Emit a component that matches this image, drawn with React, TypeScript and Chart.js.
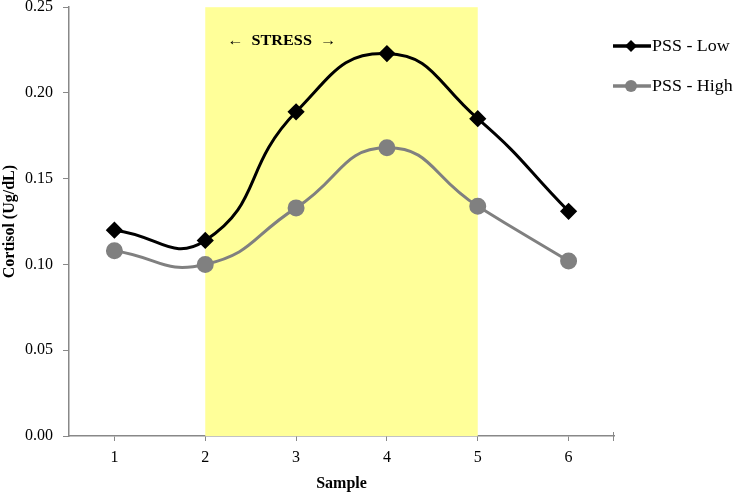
import React, { useEffect, useRef } from "react";
import { Chart, registerables } from "chart.js";

Chart.register(...registerables);

const categories = ["1", "2", "3", "4", "5", "6"];
const pssLow = [0.12, 0.114, 0.189, 0.223, 0.185, 0.131];
const pssHigh = [0.108, 0.1, 0.133, 0.168, 0.134, 0.102];
const seriesNames = ["PSS - Low", "PSS - High"];
const stressStart = "2";
const stressEnd = "5";
const stressLabel = "\u2190  STRESS  \u2192";

const FONT = "'Liberation Serif', 'Times New Roman', serif";
const SHIFT = 6;

const bandPlugin = {
  id: "band",
  beforeDatasetsDraw(chart: any) {
    const { ctx, chartArea, scales } = chart;
    const x0 = scales.x.getPixelForValue(categories.indexOf(stressStart));
    const x1 = scales.x.getPixelForValue(categories.indexOf(stressEnd));
    ctx.save();
    ctx.fillStyle = "#ffff99";
    ctx.fillRect(x0, chartArea.top, x1 - x0, chartArea.bottom - chartArea.top);
    ctx.fillStyle = "#000";
    ctx.font = `bold 15px ${FONT}`;
    ctx.textBaseline = "middle";
    ctx.textAlign = "left";
    ctx.translate(x0 + 22, chartArea.top + 34);
    ctx.scale(1.08, 1);
    ctx.fillText(stressLabel, 0, 0);
    ctx.restore();
  },
};

const legendPlugin = {
  id: "customLegend",
  afterDraw(chart: any) {
    const { ctx } = chart;
    const items = [
      { color: "#000000", style: "diamond", y: 46 + SHIFT },
      { color: "#808080", style: "circle", y: 86 + SHIFT },
    ];
    ctx.save();
    items.forEach((it, i) => {
      ctx.strokeStyle = it.color;
      ctx.lineWidth = 3.5;
      ctx.beginPath();
      ctx.moveTo(613, it.y);
      ctx.lineTo(651, it.y);
      ctx.stroke();
      ctx.fillStyle = it.color;
      ctx.beginPath();
      if (it.style === "diamond") {
        ctx.moveTo(631, it.y - 6);
        ctx.lineTo(637, it.y);
        ctx.lineTo(631, it.y + 6);
        ctx.lineTo(625, it.y);
        ctx.closePath();
      } else {
        ctx.arc(631, it.y, 6, 0, Math.PI * 2);
      }
      ctx.fill();
      ctx.save();
      ctx.fillStyle = "#000";
      ctx.font = `16px ${FONT}`;
      ctx.textBaseline = "middle";
      ctx.textAlign = "left";
      ctx.translate(652, it.y + 1);
      ctx.scale(1.12, 1);
      ctx.fillText(seriesNames[i], 0, 0);
      ctx.restore();
    });
    const { chartArea } = chart;
    ctx.strokeStyle = "#888";
    ctx.lineWidth = 1;
    ctx.beginPath();
    ctx.moveTo(chartArea.right - 0.5, chartArea.bottom - 4);
    ctx.lineTo(chartArea.right - 0.5, chartArea.bottom + 5);
    ctx.stroke();
    ctx.restore();
  },
};

export default function App() {
  const ref = useRef<HTMLCanvasElement>(null);
  useEffect(() => {
    const chart = new Chart(ref.current!, {
      type: "line",
      data: {
        labels: categories,
        datasets: [
          {
            label: seriesNames[0],
            data: pssLow,
            borderColor: "#000000",
            backgroundColor: "#000000",
            borderWidth: 3,
            pointStyle: "rectRot",
            pointRadius: 6.5,
            pointHoverRadius: 6.5,
            tension: 0.5,
          },
          {
            label: seriesNames[1],
            data: pssHigh,
            borderColor: "#808080",
            backgroundColor: "#808080",
            borderWidth: 3,
            pointStyle: "circle",
            pointRadius: 7,
            pointHoverRadius: 7,
            tension: 0.5,
          },
        ],
      },
      options: {
        animation: false,
        responsive: false,
        layout: { padding: { left: 0, right: 121, top: 1, bottom: 0 } },
        plugins: {
          legend: { display: false },
          tooltip: { enabled: false },
        },
        scales: {
          x: {
            offset: true,
            grid: {
              offset: false,
              drawOnChartArea: false,
              drawTicks: true,
              tickLength: 5,
              color: "#888",
            },
            border: { display: true, color: "#888", width: 1.5 },
            ticks: { color: "#000", font: { family: FONT, size: 16 }, padding: 7 },
            title: {
              display: true,
              text: "Sample",
              color: "#000",
              font: { family: FONT, size: 16, weight: "bold" },
              padding: { top: 4, bottom: 0 },
            },
            afterFit(scale: any) {
              scale.height = 57;
            },
          },
          y: {
            min: 0,
            max: 0.25,
            ticks: {
              stepSize: 0.05,
              color: "#000",
              font: { family: FONT, size: 16, lineHeight: 0.4 },
              padding: 10,
              callback: (v: any) => Number(v).toFixed(2),
            },
            grid: {
              drawOnChartArea: false,
              drawTicks: true,
              tickLength: 6,
              color: "#888",
            },
            border: { display: true, color: "#888", width: 1.5 },
            title: {
              display: true,
              text: "Cortisol (Ug/dL)",
              color: "#000",
              font: { family: FONT, size: 16, weight: "bold" },
              padding: { top: 0, bottom: 2 },
            },
            afterFit(scale: any) {
              scale.width = 69;
            },
          },
        },
      },
      plugins: [bandPlugin, legendPlugin],
    });
    return () => chart.destroy();
  }, []);
  return (
    <div style={{ position: "fixed", left: 0, top: 0, width: 735, height: 493, overflow: "hidden", background: "#fff" }}>
      <canvas
        ref={ref}
        width={735}
        height={493 + SHIFT}
        style={{ position: "absolute", left: 0, top: -SHIFT }}
      />
    </div>
  );
}
